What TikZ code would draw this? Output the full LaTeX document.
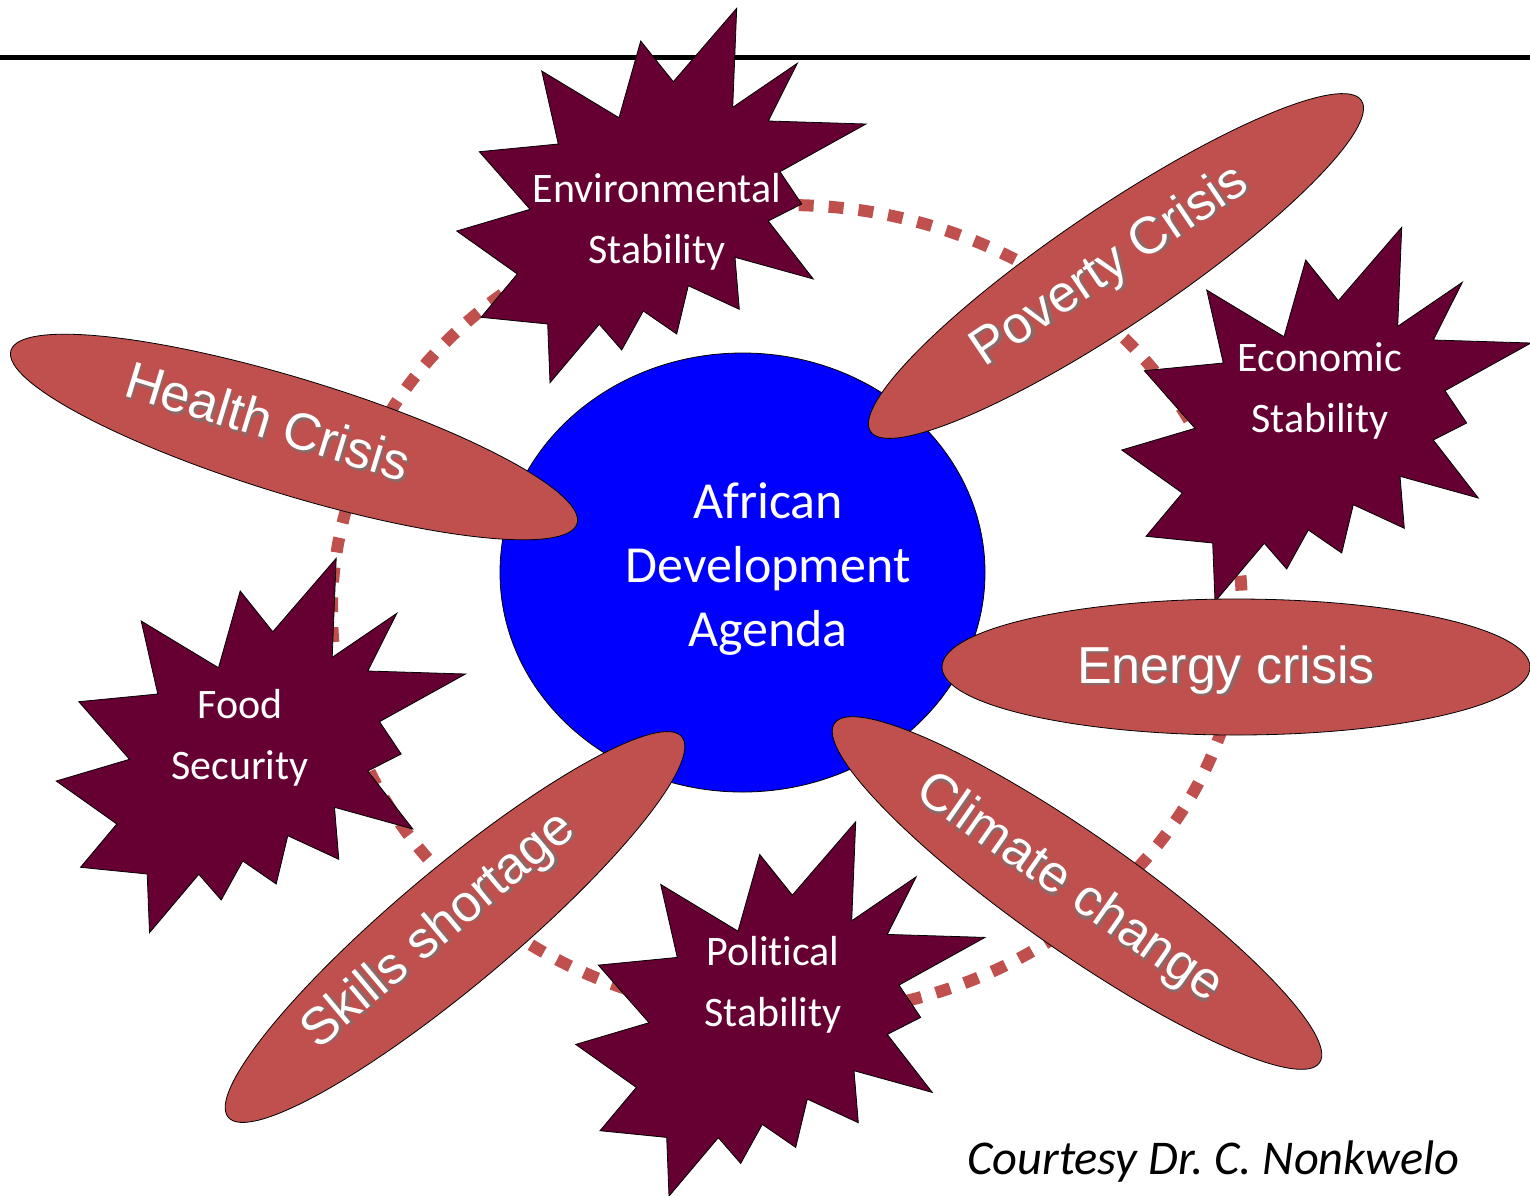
\documentclass[tikz,border=0pt]{standalone}
\usepackage{fontspec}
\setmainfont{Carlito}[Ligatures=NoCommon]
\newfontfamily\arialf{Liberation Sans}
\usetikzlibrary{shapes.geometric}
\definecolor{maroon}{HTML}{660033}
\definecolor{salmon}{HTML}{C0504D}
\definecolor{agendablue}{HTML}{0000FF}
\definecolor{shadowgray}{HTML}{8A6A69}
\newcommand\shadowed[1]{\rlap{\kern2.5pt\raisebox{-2.5pt}{\textcolor{shadowgray}{#1}}}#1}
\tikzset{
  burstshape/.style={fill=maroon, draw=black, line width=0.8pt},
  burst/.pic={\path[burstshape] (75.7,-186.7) -- (71.7,-87.7) -- (136.3,-131.7) -- (107.3,-74) -- (205,-71) -- (119,-23.3) -- (140.7,9) -- (107.3,26) -- (152.3,84) -- (74,62.3) -- (78.3,114.3) -- (27.3,90.7) -- (15.7,139) -- (-17.7,116) -- (-39.3,155) -- (-61.7,129.3) -- (-111,187.7) -- (-113.3,129) -- (-180,122.3) -- (-143.7,79) -- (-204.3,36) -- (-131,14.3) -- (-181.7,-43.3) -- (-102.7,-51) -- (-119.3,-124) -- (-42,-77.3) -- (-20.3,-154) -- (12.3,-113.3) -- cycle;},
  bursttext/.style={text=white, font=\fontsize{42}{61}\selectfont, align=center, inner sep=0pt},
  crisis/.style={ellipse, fill=salmon, draw=black, line width=0.8pt, inner sep=0pt, minimum width=592pt, minimum height=116pt},
  crisistext/.style={text=white, font=\arialf\fontsize{52}{62}\selectfont, inner sep=0pt},
  ring/.style={draw=salmon, line width=12pt, dash pattern=on 15pt off 15pt},
  centertext/.style={text=white, font=\fontsize{52}{64}\selectfont, align=center, inner sep=0pt},
}
\begin{document}
\frenchspacing
\begin{tikzpicture}[x=1pt,y=-1pt]
\useasboundingbox[fill=white] (0,0) rectangle (1530,1195);
% dotted ring
\draw[ring] (787,610) ellipse [x radius=455, y radius=405];
% header rule
\coordinate (ruleL) at (0,57);
\coordinate (ruleR) at (1530,57);
\draw[line width=5pt] (ruleL) -- (ruleR);
% central agenda
\node[ellipse, fill=agendablue, draw=black, line width=0.8pt, minimum width=485pt, minimum height=439pt, inner sep=0pt] (agenda) at (742.5,572.5) {};
\node[centertext] (agendatext) at (768,569) {African\\Development\\Agenda};
% starbursts
\pic at (661,195) {burst};
\node[bursttext] (env) at (657,222) {Environmental\\Stability};
\pic at (1326,414) {burst};
\node[bursttext] (econ) at (1320,391) {Economic\\Stability};
\pic at (260.5,745) {burst};
\node[bursttext] (food) at (240,738) {Food\\Security};
\pic at (780,1008.4) {burst};
\node[bursttext] (pol) at (773,985) {Political\\Stability};
% crisis ellipses
\node[crisis, rotate=-17] (health) at (294,437) {};
\node[crisistext, rotate=-17] (healthtext) at (268,422) {\shadowed{Health Crisis}};

\node[crisis, rotate=34] (poverty) at (1116,266) {};
\node[crisistext, rotate=34] (povertytext) at (1111,268) {\shadowed{Poverty Crisis}};

\node[crisis, minimum width=588pt, minimum height=136pt] (energy) at (1236,667) {};
\node[crisistext] (energytext) at (1226,671) {\shadowed{Energy crisis}};

\node[crisis, rotate=-35] (climate) at (1077,893) {};
\node[crisistext, rotate=-35] (climatetext) at (1068,890) {\shadowed{Climate change}};

\node[crisis, rotate=40] (skills) at (455,927) {};
\node[crisistext, rotate=40] (skillstext) at (440,932) {\shadowed{Skills shortage}};
% credit
\node[anchor=base east, inner sep=0pt, font=\itshape\fontsize{48.5}{58}\selectfont] (credit) at (1460,1174) {Courtesy Dr. C. Nonkwelo};
\end{tikzpicture}
\end{document}
